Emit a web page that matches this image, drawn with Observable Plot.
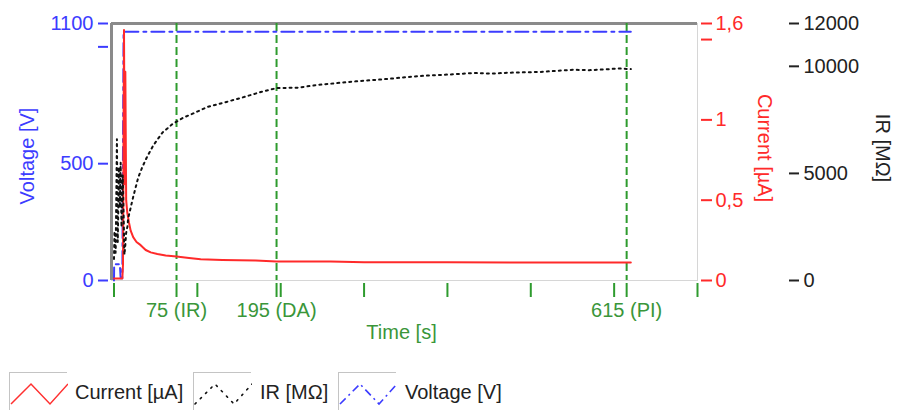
<!DOCTYPE html>
<html><head><meta charset="utf-8">
<script src="https://cdn.jsdelivr.net/npm/d3@7"></script>
<script src="https://cdn.jsdelivr.net/npm/@observablehq/plot@0.6"></script>
<style>
body{margin:0;background:#fff;font-family:"Liberation Sans",Arial,sans-serif;}
#wrap{position:relative;width:897px;height:410px;overflow:hidden;background:#fff}
#chart svg{display:block}
.box{position:absolute;top:372px;width:58px;height:38px;border-top:1px solid #c4c4c4;border-left:1px solid #c4c4c4;box-sizing:border-box}
.box svg{position:absolute;left:0;top:0;display:block}
.lt{position:absolute;font-size:20px;color:#222;top:373px;line-height:38px;white-space:nowrap}
</style></head><body>
<div id="wrap"><div id="chart"></div>
<div class="box" style="left:9px"><svg width="58" height="38"><polyline points="1,31 21,11 40,31 58,11" fill="none" stroke="#ff3030" stroke-width="1.5"/></svg></div>
<div class="lt" style="left:75px">Current [µA]</div>
<div class="box" style="left:193px"><svg width="58" height="38"><polyline points="1,31 21,11 40,31 58,11" fill="none" stroke="#111" stroke-width="1.6" stroke-dasharray="1.5,6" stroke-linecap="round"/></svg></div>
<div class="lt" style="left:260px">IR [MΩ]</div>
<div class="box" style="left:338px"><svg width="58" height="38"><polyline points="1,31 21,11 40,31 58,11" fill="none" stroke="#3c3cff" stroke-width="1.6" stroke-dasharray="8,4,2,4"/></svg></div>
<div class="lt" style="left:405px">Voltage [V]</div>
</div>
<script>
// ---- data ----
const voltageTime   = [0, 0.2, 7, 8, 10, 11.5, 620];
const voltageValues = [0, 70, 70, 10, 10, 1065, 1065];

const currentTime   = [0, 10, 10.8, 12, 12.8, 13.6, 14.6, 16, 18, 20, 23, 27, 32, 38, 44, 52, 62, 75, 90, 104, 130, 170, 195, 260, 300, 400, 500, 620];
const currentValues = [0.012, 0.012, 0.1, 1.56, 0.6, 1.3, 0.5, 0.42, 0.36, 0.31, 0.27, 0.24, 0.22, 0.19, 0.175, 0.165, 0.156, 0.15, 0.14, 0.132, 0.128, 0.124, 0.119, 0.118, 0.113, 0.113, 0.112, 0.112];

const irTime   = [0, 0.6, 2, 3.5, 4.5, 6, 7, 8, 9, 10.5, 11.5, 12.5, 13.5, 14.5, 16, 17, 20, 23, 26, 29, 34, 40, 47, 58, 70, 83, 95, 112, 136, 152, 176, 196, 220, 244, 268, 290, 311, 330, 352, 372, 392, 412, 431, 452, 472, 492, 512, 531, 551, 570, 590, 605, 615, 620];
const irValues = [1000, 2300, 1300, 6600, 1800, 5300, 3400, 5500, 2500, 4900, 3100, 1200, 1600, 2200, 2500, 2900, 3400, 3900, 4350, 4800, 5300, 5800, 6300, 6900, 7300, 7600, 7800, 8100, 8350, 8520, 8800, 8990, 9000, 9130, 9220, 9300, 9360, 9420, 9500, 9560, 9600, 9640, 9690, 9660, 9700, 9720, 9740, 9790, 9840, 9820, 9860, 9900, 9880, 9870];

const markerTimes  = [75, 195, 615];
const markerLabels = ["75 (IR)", "195 (DA)", "615 (PI)"];
const xTicks = [0, 100, 200, 300, 400, 500, 600, 700];

const voltageTicks = [0, 500, 1000, 1100];
const voltageTickLabels = ["0", "500", "", "1100"];
const currentTicks = [0, 0.5, 1, 1.5, 1.6];
const currentTickLabels = ["0", "0,5", "1", "", "1,6"];
const irTicks = [0, 5000, 10000, 12000];
const irTickLabels = ["0", "5000", "10000", "12000"];

const VMAX = 1100, CMAX = 1.6, IRMAX = 12000;

// ---- tables ----
const voltage = voltageTime.map((t, i) => ({t, v: voltageValues[i] / VMAX}));
const current = currentTime.map((t, i) => ({t, v: currentValues[i] / CMAX}));
const ir = irTime.map((t, i) => ({t, v: irValues[i] / IRMAX}));

const blue = "#3c3cff", red = "#ff2a2a", green = "#2e9b2e", gtext = "#3a963a";
const font = "Liberation Sans, Arial, sans-serif";

const vMap = new Map(voltageTicks.map((d, i) => [d / VMAX, voltageTickLabels[i]]));
const cMap = new Map(currentTicks.map((d, i) => [d / CMAX, currentTickLabels[i]]));
const iMap = new Map(irTicks.map((d, i) => [d / IRMAX, irTickLabels[i]]));
const xMap = new Map(markerTimes.map((d, i) => [d, markerLabels[i]]));

const chart = Plot.plot({
  width: 897, height: 355,
  marginLeft: 111, marginRight: 200, marginTop: 23, marginBottom: 75,
  style: {fontFamily: font, fontSize: "20px", background: "white"},
  x: {domain: [-3, 700]},
  y: {domain: [0, 1]},
  marks: [
    Plot.frame({stroke: "#d6d6d6"}),
    Plot.ruleY([1], {stroke: "#8a8a8a", strokeWidth: 3}),
    Plot.ruleX([-3], {stroke: "#8a8a8a", strokeWidth: 3}),
    Plot.ruleX(markerTimes, {stroke: green, strokeWidth: 2, strokeDasharray: "8,4"}),
    Plot.line(voltage, {x: "t", y: "v", stroke: blue, strokeWidth: 2, strokeDasharray: "13,5,3,5"}),
    Plot.line(current, {x: "t", y: "v", stroke: red, strokeWidth: 2}),
    Plot.line(ir, {x: "t", y: "v", stroke: "#111", strokeWidth: 2, strokeDasharray: "2,4", strokeLinecap: "round"}),
    Plot.axisY({anchor: "left", ticks: voltageTicks.map(d => d / VMAX), tickFormat: d => vMap.get(d) ?? "",
      tickSize: 10, tickPadding: 5, dx: -3, stroke: blue, fill: blue, strokeWidth: 2, fontSize: 20, label: null}),
    Plot.axisY({anchor: "right", ticks: currentTicks.map(d => d / CMAX), tickFormat: d => cMap.get(d) ?? "",
      tickSize: 11, tickPadding: 4, dx: 3, stroke: red, fill: red, strokeWidth: 2, fontSize: 20, label: null}),
    Plot.axisY({anchor: "right", ticks: irTicks.map(d => d / IRMAX), tickFormat: d => iMap.get(d) ?? "",
      tickSize: 10, tickPadding: 5, dx: 91, stroke: "#222", fill: "#222", strokeWidth: 2, fontSize: 20, label: null}),
    Plot.axisX({anchor: "bottom", ticks: [...xTicks, ...markerTimes], tickFormat: d => xMap.get(d) ?? "",
      tickSize: 14, tickPadding: 5, dy: 3, stroke: green, fill: gtext, strokeWidth: 2, fontSize: 20, label: null}),
    Plot.text(["Voltage [V]"], {text: d => d, frameAnchor: "left", textAnchor: "middle", dx: -84, dy: 4, rotate: -90, fill: blue, fontSize: 20}),
    Plot.text(["Current [µA]"], {text: d => d, frameAnchor: "right", textAnchor: "middle", dx: 67, dy: -4, rotate: 90, fill: red, fontSize: 20}),
    Plot.text(["IR [MΩ]"], {text: d => d, frameAnchor: "right", textAnchor: "middle", dx: 185, dy: -4, rotate: 90, fill: "#222", fontSize: 20}),
    Plot.text(["Time [s]"], {text: d => d, frameAnchor: "bottom", dx: -3, dy: 58, fill: gtext, fontSize: 20})
  ]
});
document.getElementById("chart").appendChild(chart);
</script>
</body></html>
